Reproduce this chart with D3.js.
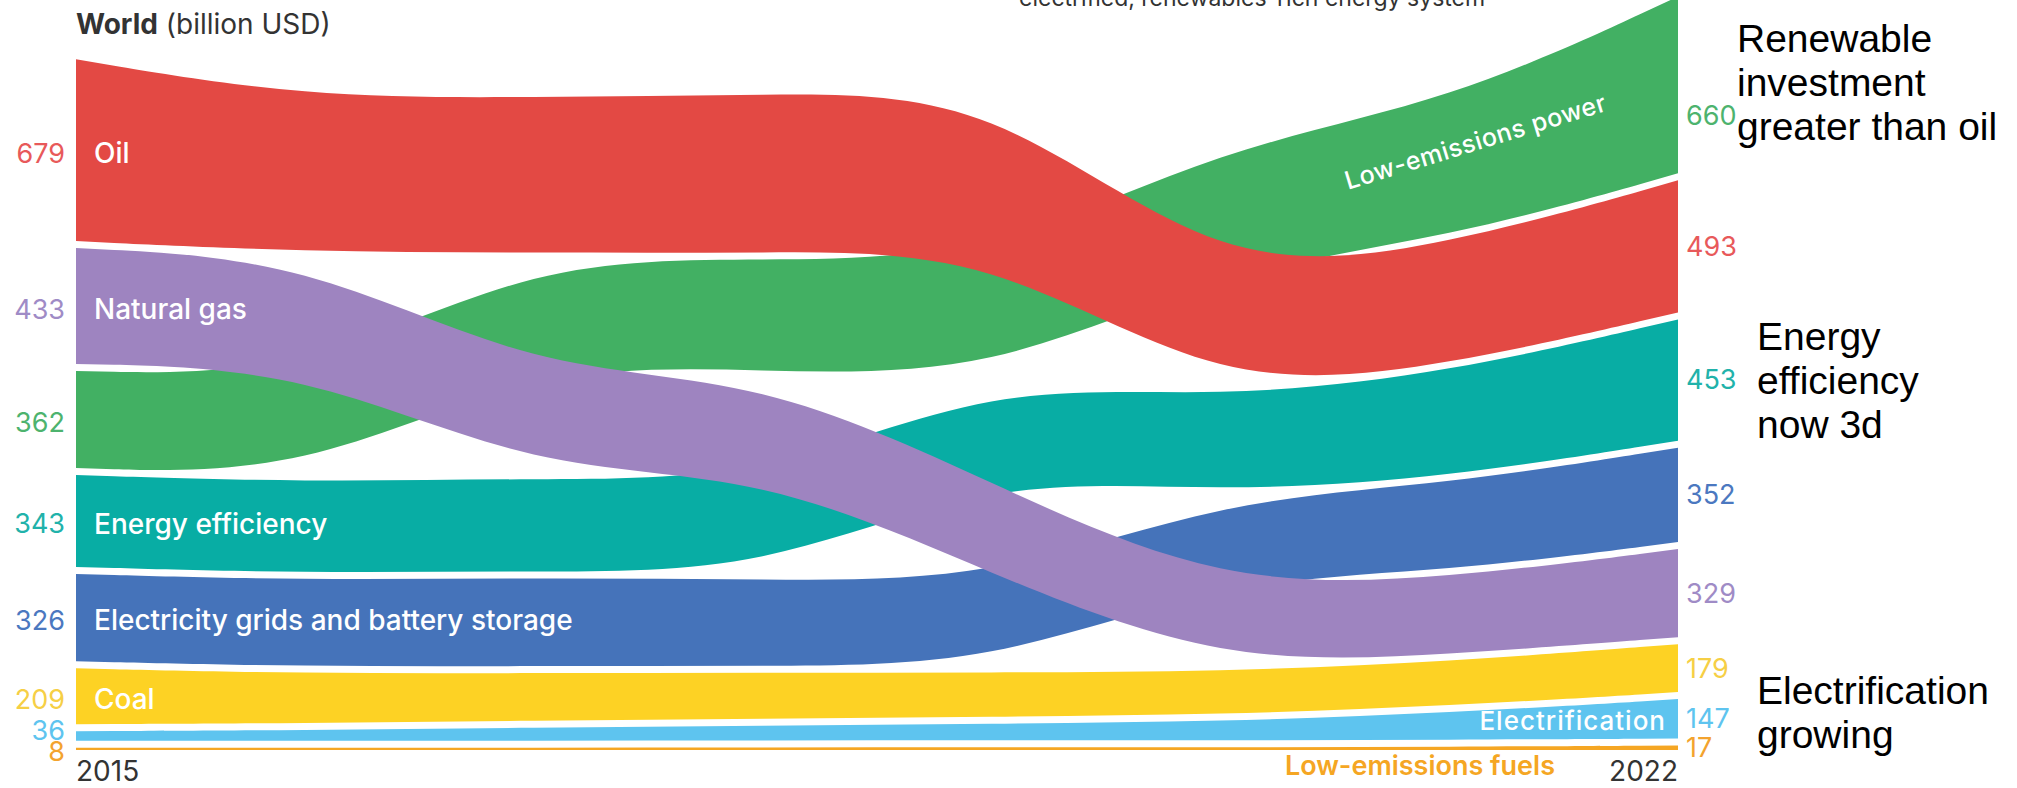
<!DOCTYPE html>
<html>
<head>
<meta charset="utf-8">
<script src="https://cdn.jsdelivr.net/npm/d3@7/dist/d3.min.js"></script>
<style>
  html, body { margin: 0; padding: 0; background: #fff; }
  svg { display: block; }
</style>
</head>
<body>
<svg id="chart" width="2017" height="788"></svg>
<script>
// ---------------- DATA ----------------
const years = [2015, 2016, 2017, 2018, 2019, 2020, 2021, 2022];
const categories = ["Oil", "Natural gas", "Low-emissions power", "Energy efficiency",
  "Electricity grids and battery storage", "Coal", "Electrification", "Low-emissions fuels"];
const oil        = [679, 575, 580, 590, 590, 430, 450, 493];
const naturalGas = [433, 410, 372, 356, 340, 290, 285, 329];
const lowEmPower = [362, 372, 392, 414, 440, 460, 505, 660];
const efficiency = [343, 340, 345, 345, 350, 350, 390, 453];
const grids      = [326, 322, 330, 322, 315, 300, 325, 352];
const coal       = [209, 185, 178, 172, 165, 160, 165, 179];
const electrif   = [36, 40, 48, 55, 62, 70, 100, 147];
const lowEmFuels = [8, 8, 9, 9, 10, 10, 12, 17];
const seriesValues = [oil, naturalGas, lowEmPower, efficiency, grids, coal, electrif, lowEmFuels];
const titleBold = "World";
const titleRest = " (billion USD)";
const topNote = "electrified, renewables-rich energy system";
const annotations = [
  ["Renewable", "investment", "greater than oil"],
  ["Energy", "efficiency", "now 3d"],
  ["Electrification", "growing"]
];

// ---------------- STYLE ----------------
const colors = ["#E34944", "#9E84C0", "#42B063", "#08ADA4", "#4573BA", "#FDD224", "#5EC4EF", "#F5A623"];
const labelColors = ["#E8595A", "#9F8BC6", "#4DB36E", "#21B2AA", "#4B78C0", "#F6CF45", "#5EC4EF", "#F3A32E"];
const drawOrder = [7, 6, 5, 4, 3, 2, 1, 0];   // later entries drawn on top
const leftInside = {0: "Oil", 1: "Natural gas", 3: "Energy efficiency", 4: "Electricity grids and battery storage", 5: "Coal"};

const svg = d3.select("#chart");
const x = d3.scaleLinear().domain([2015, 2022]).range([76, 1678]);
const y = d3.scaleLinear().domain([0, 2800]).range([750, 0]);
const gap = 7;

// rank-stacked layout for each year (largest on top), bottom anchored
const series = categories.map((name, k) => ({name, k, values: seriesValues[k], top: [], bot: []}));
years.forEach((yr, i) => {
  const sorted = series.slice().sort((a, b) => a.values[i] - b.values[i]);
  let cur = y(0);
  sorted.forEach(s => {
    s.bot[i] = cur;
    s.top[i] = cur - (y(0) - y(s.values[i]));
    cur = s.top[i] - gap;
  });
});

const area = d3.area()
  .x((d, i) => x(years[i]))
  .y0(d => d.b)
  .y1(d => d.t)
  .curve(d3.curveBasis);

const g = svg.append("g");
drawOrder.forEach(k => {
  const s = series[k];
  const pts = years.map((yr, i) => ({t: s.top[i], b: s.bot[i]}));
  g.append("path")
    .attr("d", area(pts))
    .attr("fill", colors[k]);
});

// ---------------- TEXT ----------------
const fontMain = "Inter, 'Open Sans', sans-serif";

// Title
const t = svg.append("text").attr("x", 76).attr("y", 34)
  .attr("font-family", fontMain).attr("font-size", 28).attr("fill", "#333");
t.append("tspan").attr("font-weight", 700).text(titleBold);
t.append("tspan").attr("font-weight", 400).text(titleRest);

// clipped note at top
svg.append("text").attr("x", 1019).attr("y", 6)
  .attr("font-family", fontMain).attr("font-size", 23).attr("fill", "#333")
  .text(topNote);

// label position helper: push labels apart from bottom up
function spread(items, minGap) {
  items.sort((a, b) => b.y - a.y);
  for (let i = 1; i < items.length; i++) {
    if (items[i].y > items[i - 1].y - minGap) items[i].y = items[i - 1].y - minGap;
  }
  return items;
}

// Left value labels (2015)
const leftItems = spread(series.map(s => ({s, y: (s.top[0] + s.bot[0]) / 2 + 3})), 21);
leftItems.forEach(it => {
  svg.append("text").attr("x", 65).attr("y", it.y).attr("dy", "0.35em")
    .attr("text-anchor", "end")
    .attr("font-family", fontMain).attr("font-size", 27).attr("font-weight", 400)
    .attr("fill", labelColors[it.s.k])
    .text(it.s.values[0]);
  if (leftInside[it.s.k]) {
    svg.append("text").attr("x", 94).attr("y", it.y).attr("dy", "0.35em")
      .attr("font-family", fontMain).attr("font-size", 28).attr("font-weight", 500)
      .attr("fill", "#fff")
      .text(leftInside[it.s.k]);
  }
});

// Right value labels (2022)
const last = years.length - 1;
const rightItems = spread(series.map(s => ({s, y: Math.max(116, (s.top[last] + s.bot[last]) / 2)})), 21);
rightItems.forEach(it => {
  svg.append("text").attr("x", 1686).attr("y", it.y).attr("dy", "0.35em")
    .attr("font-family", fontMain).attr("font-size", 27).attr("font-weight", 400)
    .attr("fill", labelColors[it.s.k])
    .text(it.s.values[last]);
});

// Low-emissions power label along the band
svg.append("text")
  .attr("transform", "translate(1478,150) rotate(-17)")
  .attr("text-anchor", "middle")
  .attr("font-family", fontMain).attr("font-size", 25).attr("font-weight", 500)
  .attr("letter-spacing", 0.5)
  .attr("fill", "#fff")
  .text(categories[2]);

// Electrification label inside its band
const el = series[6];
svg.append("text").attr("x", 1666).attr("y", (el.top[last] + el.bot[last]) / 2 + 2).attr("dy", "0.35em")
  .attr("text-anchor", "end")
  .attr("font-family", fontMain).attr("font-size", 26).attr("font-weight", 500)
  .attr("letter-spacing", 1)
  .attr("fill", "#fff")
  .text(categories[6]);

// Low-emissions fuels label under the axis
svg.append("text").attr("x", 1555).attr("y", 775)
  .attr("text-anchor", "end")
  .attr("font-family", fontMain).attr("font-size", 27).attr("font-weight", 600)
  .attr("fill", "#F5A623")
  .text(categories[7]);

// Year labels
svg.append("text").attr("x", x(years[0])).attr("y", 781)
  .attr("font-family", fontMain).attr("font-size", 28).attr("fill", "#333")
  .text(years[0]);
svg.append("text").attr("x", x(years[last])).attr("y", 781)
  .attr("text-anchor", "end")
  .attr("font-family", fontMain).attr("font-size", 28).attr("fill", "#333")
  .text(years[last]);

// Right-side annotations
const annoPos = [[1737, 52], [1757, 350], [1757, 704]];
annotations.forEach((lines, j) => {
  const a = svg.append("text").attr("x", annoPos[j][0]).attr("y", annoPos[j][1])
    .attr("font-family", "'Liberation Sans', Arial, sans-serif").attr("font-size", 39)
    .attr("fill", "#000");
  lines.forEach((ln, li) => {
    a.append("tspan").attr("x", annoPos[j][0]).attr("dy", li === 0 ? 0 : 44).text(ln);
  });
});
</script>
</body>
</html>
